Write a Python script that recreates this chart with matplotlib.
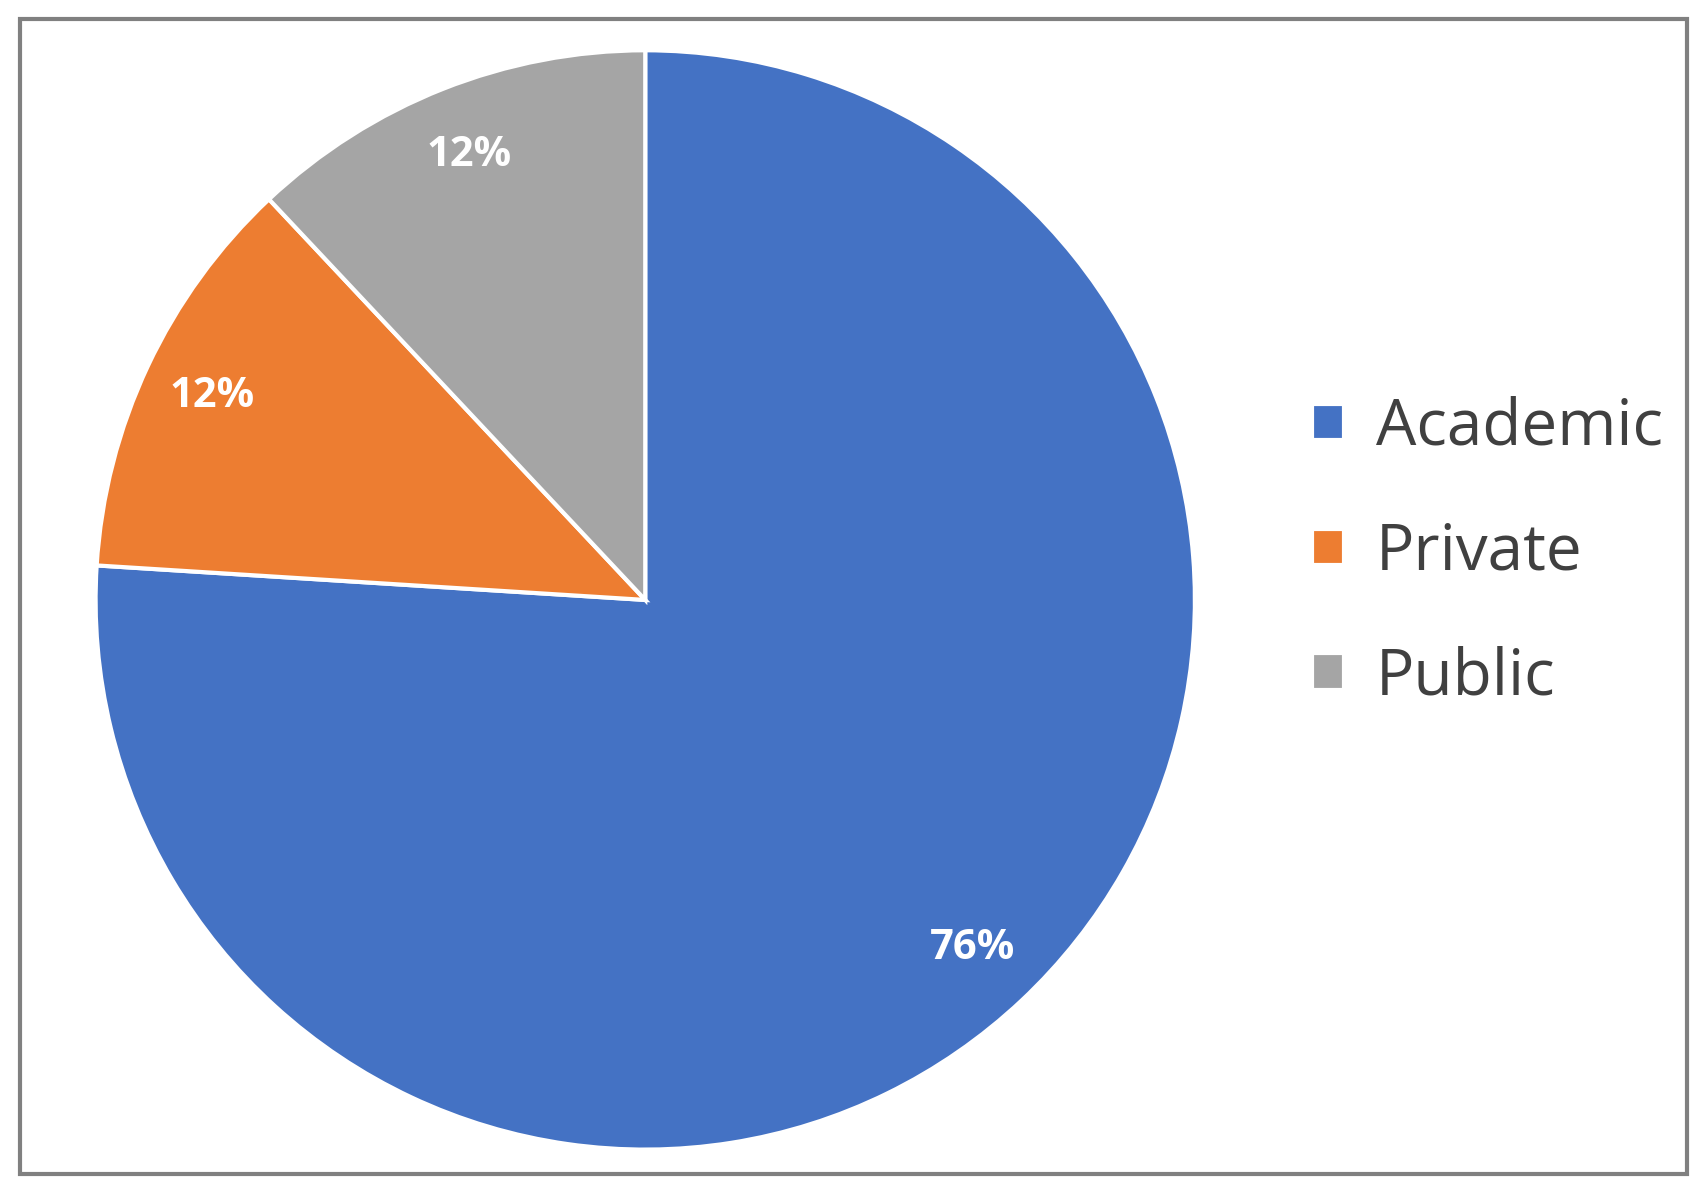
import matplotlib
matplotlib.use("Agg")
import matplotlib.pyplot as plt
from matplotlib.patches import Rectangle

labels = ["Academic", "Private", "Public"]
values = [76, 12, 12]
colors = ["#4472C4", "#ED7D31", "#A5A5A5"]

fig = plt.figure(figsize=(17.07, 11.88), dpi=100)
ax = fig.add_axes([0.056, 0.032, 0.644, 0.926])
wedges, texts, autotexts = ax.pie(
    values, colors=colors, startangle=90, counterclock=False,
    autopct="%d%%", pctdistance=0.87,
    wedgeprops=dict(edgecolor="white", linewidth=3),
    textprops=dict(color="white", fontsize=30, fontweight="bold", family="Open Sans"))
ax.set_xlim(-1.0, 1.0)
ax.set_ylim(-1.0, 1.0)
ax.set_aspect("equal")
fig.legend(wedges, labels, loc="center left", bbox_to_anchor=(0.735, 0.535),
           frameon=False, prop=dict(family="Open Sans", size=46),
           handlelength=0.5, handleheight=0.5, handletextpad=0.5, labelspacing=0.95,
           labelcolor="#404040")
fig.patches.append(Rectangle((0.012, 0.012), 0.976, 0.972, transform=fig.transFigure,
                             fill=False, edgecolor="#808080", linewidth=3))
fig.savefig("out.png", dpi=100)
